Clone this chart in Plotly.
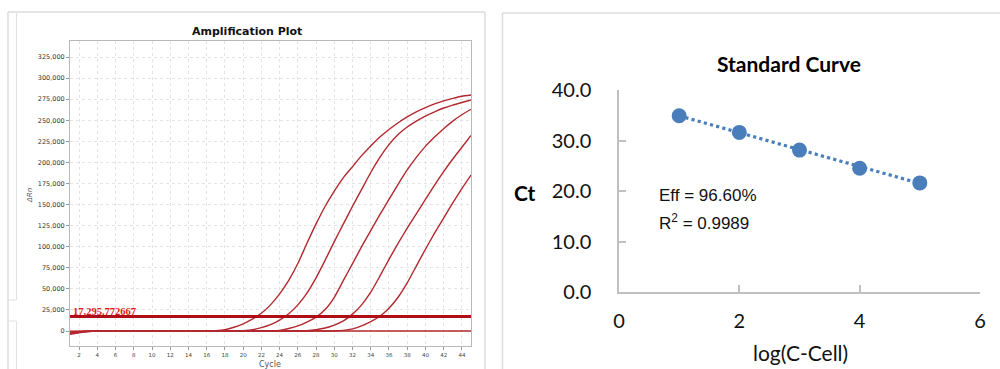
import plotly.graph_objects as go

W, H = 1000, 369

# ---------------- Amplification plot data ----------------
cycles = list(range(1, 46))
curve_1 = [-3800, -2000, -800, -200, 0, 0, 0, 0, 0, 0, 0, 0, 0, 0, 0, 0,
           300, 1500, 4500, 8500, 14000, 21000, 31000, 44000, 60000, 80000, 104000,
           127000, 148000, 166000, 182000, 195000, 208000, 219500, 230000, 239000,
           247000, 254000, 260000, 265000, 269500, 273000, 276000, 278500, 280000]
curve_2 = [-3000, -1600, -600, -150, 0, 0, 0, 0, 0, 0, 0, 0, 0, 0, 0, 0, 0, 0, 0,
           500, 1500, 4000, 7500, 13000, 20500, 31000, 45000, 63000, 84000, 106000,
           127000, 148000, 168000, 188000, 206000, 221000, 233000, 242000, 249000,
           255000, 260000, 264500, 268000, 271000, 274000]
curve_3 = [-2200, -1100, -400, -100, 0, 0, 0, 0, 0, 0, 0, 0, 0, 0, 0, 0, 0, 0, 0, 0, 0, 0,
           200, 800, 3000, 6000, 10500, 16500, 25500, 40000, 60000, 80000, 100000,
           119000, 138000, 156000, 174000, 191000, 206000, 219000, 230000, 240000,
           249000, 256500, 263000]
curve_4 = [-1500, -800, -300, -80, 0, 0, 0, 0, 0, 0, 0, 0, 0, 0, 0, 0, 0, 0, 0, 0, 0, 0,
           0, 0, 0, 0, 300, 1500, 3500, 7000, 12000, 20000, 31000, 46000, 65000, 85000,
           104000, 122000, 139000, 156000, 173000, 189000, 204000, 218000, 232000]
curve_5 = [-800, -400, -150, -50, 0, 0, 0, 0, 0, 0, 0, 0, 0, 0, 0, 0, 0, 0, 0, 0, 0, 0,
           0, 0, 0, 0, 0, 0, 0, 0, 700, 2500, 6000, 11000, 17500, 27000, 40000, 57000,
           77000, 97000, 116000, 134000, 152000, 169000, 185000]
curve_ntc = [-300, -150, -50, 0, 0, 0, 0, 0, 0, 0, 0, 0, 0, 0, 0, 0, 0, 0, 0, 0, 0, 0,
             0, 0, 0, 0, 0, 0, 0, 0, 0, 0, 0, 0, 0, 0, 0, 0, 0, 0, 0, 0, 0, 0, 0]
threshold = 17295.772667
threshold_label = "17,295.772667"
amp_ytick_vals = [0, 25000, 50000, 75000, 100000, 125000, 150000, 175000, 200000,
                  225000, 250000, 275000, 300000, 325000]
amp_ytick_text = ["0", "25,000", "50,000", "75,000", "100,000", "125,000", "150,000",
                  "175,000", "200,000", "225,000", "250,000", "275,000", "300,000", "325,000"]
amp_xtick_vals = [2, 4, 6, 8, 10, 12, 14, 16, 18, 20, 22, 24, 26, 28, 30, 32, 34, 36,
                  38, 40, 42, 44]

# ---------------- Standard curve data ----------------
log_c = [1, 2, 3, 4, 5]
ct = [34.9, 31.6, 28.1, 24.5, 21.6]
trend_x = [1, 5]
trend_y = [34.9, 21.5]
std_ytick_vals = [0, 10, 20, 30, 40]
std_ytick_text = ["0.0", "10.0", "20.0", "30.0", "40.0"]
std_xtick_vals = [0, 2, 4, 6]
eff_text = "Eff = 96.60%"
r2_text = "R<sup>2</sup> = 0.9989"


def px(x):
    return x / W


def py(y):
    return 1 - y / H


CURVE_RED = "#b3282e"
BLUE = "#4a7ebb"

fig = go.Figure()

for c in [curve_ntc, curve_5, curve_4, curve_3, curve_2, curve_1]:
    fig.add_trace(go.Scatter(x=cycles, y=c, mode="lines", xaxis="x", yaxis="y",
                             line=dict(color=CURVE_RED, width=1.4, shape="spline",
                                       smoothing=0.6),
                             showlegend=False, hoverinfo="skip"))

fig.add_trace(go.Scatter(x=trend_x, y=trend_y, mode="lines", xaxis="x2", yaxis="y2",
                         line=dict(color=BLUE, width=3.2, dash="dot"), showlegend=False))
fig.add_trace(go.Scatter(x=log_c, y=ct, mode="markers", xaxis="x2", yaxis="y2",
                         marker=dict(color=BLUE, size=15), showlegend=False))

FRAME = dict(color="#dcdcdc", width=1.5)
THIN = dict(color="#e2e2e2", width=1)
shapes = [
    # threshold line
    dict(type="line", xref="x", yref="y", x0=1, x1=45, y0=threshold, y1=threshold,
         line=dict(color="#b00d17", width=3), layer="above"),
    # left panel frame (top, left, right)
    dict(type="line", xref="paper", yref="paper", x0=px(8), x1=px(485), y0=py(12), y1=py(12), line=FRAME),
    dict(type="line", xref="paper", yref="paper", x0=px(8), x1=px(8), y0=py(12), y1=0, line=FRAME),
    dict(type="line", xref="paper", yref="paper", x0=px(485), x1=px(485), y0=py(12), y1=0, line=FRAME),
    dict(type="line", xref="paper", yref="paper", x0=px(16.5), x1=px(16.5), y0=py(13), y1=py(300), line=THIN),
    dict(type="line", xref="paper", yref="paper", x0=px(8), x1=px(16.5), y0=py(300), y1=py(300), line=THIN),
    dict(type="line", xref="paper", yref="paper", x0=px(8), x1=px(16.5), y0=py(321), y1=py(321), line=THIN),
    dict(type="line", xref="paper", yref="paper", x0=px(16.5), x1=px(16.5), y0=py(321), y1=0, line=THIN),
    # right panel frame (top, left)
    dict(type="line", xref="paper", yref="paper", x0=px(502.5), x1=1, y0=py(13), y1=py(13), line=FRAME),
    dict(type="line", xref="paper", yref="paper", x0=px(502.5), x1=px(502.5), y0=py(13), y1=0, line=FRAME),
]


def ann(text, x, y, size, family, color="#111", xanchor="center", angle=0):
    return dict(text=text, xref="paper", yref="paper", x=px(x), y=py(y),
                xanchor=xanchor, yanchor="middle", textangle=angle, showarrow=False,
                font=dict(family=family, size=size, color=color))


annotations = [
    ann("<b>Amplification Plot</b>", 247, 31, 11, "DejaVu Sans", "#111"),
    ann("Cycle", 270, 364, 8, "DejaVu Sans", "#555"),
    ann("<i>ΔRn</i>", 30, 196, 7, "DejaVu Sans", "#555", angle=-90),
    dict(text="<b>" + threshold_label + "</b>", xref="paper", yref="y", x=px(70.5), y=threshold,
         xanchor="left", yanchor="bottom", yshift=-3, showarrow=False,
         font=dict(family="Liberation Serif", size=10.5, color="#e3141c")),
    ann("<b>Standard Curve</b>", 789, 63, 21, "Lato", "#000"),
    ann("<b>Ct</b>", 525, 192, 21, "Lato", "#000"),
    ann("log(C-Cell)", 800, 352, 21, "Lato", "#111"),
    ann(eff_text, 657, 195, 17, "Liberation Sans", "#111", xanchor="left"),
    ann(r2_text, 657, 222, 17, "Liberation Sans", "#111", xanchor="left"),
]

fig.update_layout(
    width=W, height=H,
    margin=dict(l=0, r=0, t=0, b=0, pad=0),
    paper_bgcolor="white", plot_bgcolor="white",
    showlegend=False,
    shapes=shapes,
    annotations=annotations,
    xaxis=dict(domain=[px(70), px(471)], range=[1, 45], anchor="y", automargin=False,
               tickvals=amp_xtick_vals, ticks="outside", ticklen=3, tickcolor="#999",
               tickfont=dict(family="DejaVu Sans", size=5.5, color="#444"),
               showgrid=True, gridcolor="#e4e4e4", griddash="dot", gridwidth=1,
               showline=True, linecolor="#b8b8b8", linewidth=1, mirror=True,
               zeroline=False),
    yaxis=dict(domain=[py(346), py(41)], range=[-17792, 343978], anchor="x", automargin=False,
               tickvals=amp_ytick_vals, ticktext=amp_ytick_text,
               ticks="outside", ticklen=3, tickcolor="#999",
               tickfont=dict(family="DejaVu Sans", size=6.5, color="#333"),
               showgrid=True, gridcolor="#e4e4e4", griddash="dot", gridwidth=1,
               showline=True, linecolor="#b8b8b8", linewidth=1, mirror=True,
               zeroline=False),
    xaxis2=dict(domain=[px(619), px(980)], range=[0, 6], anchor="y2", automargin=False,
                tickvals=std_xtick_vals, ticks="inside", ticklen=7, tickcolor="#c0c0c0",
                tickwidth=1.5, tickfont=dict(family="Lato", size=20, color="#111"),
                ticklabelstandoff=10,
                showgrid=False, showline=True, linecolor="#c0c0c0", linewidth=1.5,
                zeroline=False),
    yaxis2=dict(domain=[py(292), py(90)], range=[0, 40], anchor="x2", automargin=False,
                tickvals=std_ytick_vals, ticktext=std_ytick_text,
                ticks="inside", ticklen=7, tickcolor="#c0c0c0", tickwidth=1.5,
                tickfont=dict(family="Lato", size=20, color="#111"),
                ticklabelstandoff=22,
                showgrid=False, showline=True, linecolor="#c0c0c0", linewidth=1.5,
                zeroline=False),
)

fig.write_html("out.html", config={"displayModeBar": False},
               post_script="document.body.style.margin='0';document.body.style.overflow='hidden';")
